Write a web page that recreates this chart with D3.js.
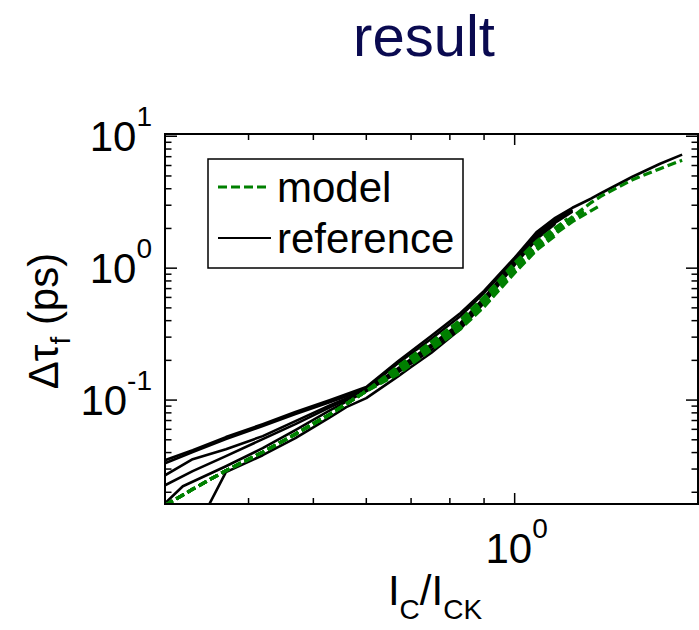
<!DOCTYPE html>
<html>
<head>
<meta charset="utf-8">
<script src="https://cdn.jsdelivr.net/npm/d3@7"></script>
<style>
  html, body { margin: 0; padding: 0; background: #fff; }
  svg { display: block; font-family: "Liberation Sans", Arial, sans-serif; }
</style>
</head>
<body>
<svg id="chart" width="699" height="630"></svg>
<script>
// ---------- data ----------
const title = "result";
const xDomain = [0.3, 1.88];
const yDomain = [0.0163, 10.4];
const yMajorTicks = [0.1, 1, 10];
const yTickExponents = ["-1", "0", "1"];
const xMajorTicks = [1];
const xTickExponents = ["0"];
const legendLabels = ["model", "reference"];

// reference curves (black)
const refA_x = [0.3, 0.33, 0.37, 0.42, 0.47, 0.53, 0.6, 0.67, 0.75, 0.83, 0.9, 1.0, 1.08, 1.15, 1.22, 1.3, 1.35, 1.5, 1.65, 1.78];
const refA_y = [0.0350, 0.0417, 0.0524, 0.0657, 0.0811, 0.100, 0.1256, 0.1977, 0.306, 0.4576, 0.6724, 1.20, 1.89, 2.41, 2.87, 3.36, 3.73, 4.93, 6.19, 7.25];
const refB_x = [0.3, 0.33, 0.37, 0.42, 0.47, 0.53, 0.6, 0.67, 0.75, 0.83, 0.9, 1.0, 1.08, 1.15, 1.22];
const refB_y = [0.0332, 0.0403, 0.0506, 0.0635, 0.0783, 0.0966, 0.1212, 0.191, 0.2905, 0.434, 0.649, 1.16, 1.82, 2.33, 2.77];
const refC_x = [0.3, 0.33, 0.37, 0.42, 0.47, 0.53, 0.6, 0.67, 0.75, 0.83, 0.9, 1.0, 1.08, 1.15, 1.22];
const refC_y = [0.0269, 0.0356, 0.0424, 0.0533, 0.0693, 0.0916, 0.1191, 0.175, 0.262, 0.384, 0.595, 1.12, 1.76, 2.29, 2.72];
const refD_x = [0.3, 0.33, 0.37, 0.42, 0.47, 0.53, 0.6, 0.67, 0.75, 0.83, 0.9, 1.0, 1.08, 1.15];
const refD_y = [0.0226, 0.0289, 0.0376, 0.0506, 0.0657, 0.0885, 0.1170, 0.169, 0.253, 0.371, 0.574, 1.10, 1.73, 2.25];
const refE_x = [0.3, 0.319, 0.37, 0.42, 0.47, 0.53, 0.6, 0.67, 0.75, 0.83, 0.9, 1.0, 1.08, 1.15, 1.22];
const refE_y = [0.0165, 0.0222, 0.0315, 0.0432, 0.0592, 0.0839, 0.1170, 0.163, 0.240, 0.358, 0.555, 1.08, 1.70, 2.21, 2.68];
const refF_x = [0.3385, 0.37, 0.42, 0.47, 0.53, 0.56, 0.6, 0.67, 0.7, 0.75, 0.83, 0.9, 1.0, 1.08, 1.15];
const refF_y = [0.0119, 0.0284, 0.0382, 0.0514, 0.0743, 0.0885, 0.1035, 0.152, 0.178, 0.2275, 0.346, 0.545, 1.06, 1.67, 2.17];

// model curves (green dashed)
const modG1_x = [0.3, 0.33, 0.37, 0.42, 0.47, 0.53, 0.6, 0.67, 0.75, 0.83, 0.9, 1.0, 1.08, 1.15, 1.22, 1.3, 1.35, 1.5, 1.65, 1.78];
const modG1_y = [0.0159, 0.0211, 0.0292, 0.0403, 0.0552, 0.0783, 0.117, 0.175, 0.266, 0.391, 0.574, 1.04, 1.53, 1.95, 2.45, 3.13, 3.54, 4.68, 5.68, 6.58];
const modG2_x = [0.3, 0.33, 0.37, 0.42, 0.47, 0.53, 0.6, 0.67, 0.75, 0.83, 0.9, 1.0, 1.08, 1.15, 1.22, 1.3, 1.34];
const modG2_y = [0.0159, 0.0211, 0.0292, 0.0403, 0.0552, 0.0783, 0.117, 0.169, 0.253, 0.365, 0.536, 0.971, 1.43, 1.82, 2.25, 2.72, 2.97];
const modG3_x = [0.3, 0.33, 0.37, 0.42, 0.47, 0.53, 0.6, 0.67, 0.75, 0.83, 0.9, 1.0, 1.08, 1.15, 1.22];
const modG3_y = [0.0159, 0.0211, 0.0292, 0.0403, 0.0552, 0.0783, 0.117, 0.163, 0.244, 0.352, 0.517, 0.937, 1.40, 1.85, 2.33];
const modG4_x = [0.3, 0.33, 0.37, 0.42, 0.47, 0.53, 0.6, 0.67, 0.75, 0.83, 0.9, 1.0, 1.08, 1.15, 1.2];
const modG4_y = [0.0159, 0.0211, 0.0292, 0.0403, 0.0552, 0.0783, 0.117, 0.181, 0.276, 0.405, 0.605, 1.10, 1.61, 2.02, 2.37];
const modG5_x = [0.3, 0.33, 0.37, 0.42, 0.47, 0.53, 0.6, 0.67, 0.75, 0.83, 0.9, 1.0, 1.08, 1.15];
const modG5_y = [0.0159, 0.0211, 0.0292, 0.0403, 0.0552, 0.0783, 0.117, 0.1575, 0.240, 0.346, 0.508, 0.921, 1.38, 1.76];
const modG6_x = [0.3, 0.33, 0.37, 0.42, 0.47, 0.53, 0.6, 0.67, 0.75, 0.83, 0.9, 1.0, 1.08, 1.15, 1.22, 1.27];
const modG6_y = [0.0159, 0.0211, 0.0292, 0.0403, 0.0552, 0.0783, 0.117, 0.175, 0.266, 0.391, 0.565, 1.005, 1.48, 1.89, 2.37, 2.68];

const refSeries = [[refA_x, refA_y], [refB_x, refB_y], [refC_x, refC_y], [refD_x, refD_y], [refE_x, refE_y], [refF_x, refF_y]];
const modSeries = [[modG1_x, modG1_y], [modG2_x, modG2_y], [modG3_x, modG3_y], [modG4_x, modG4_y], [modG5_x, modG5_y], [modG6_x, modG6_y]];

// ---------- layout ----------
const L = 165, R = 698, T = 134, B = 504;
const GREEN = "#008000";
const svg = d3.select("#chart");

const x = d3.scaleLog().domain(xDomain).range([L, R]);
const y = d3.scaleLog().domain(yDomain).range([B, T]);

svg.append("defs").append("clipPath").attr("id", "plotclip")
  .append("rect").attr("x", L).attr("y", T).attr("width", R - L).attr("height", B - T);

// title
svg.append("text").attr("x", 424).attr("y", 56).attr("text-anchor", "middle")
  .attr("font-size", 58).attr("fill", "#0a0a50").text(title);

// curves
const line = d3.line().x(d => x(d[0])).y(d => y(d[1]));
const plot = svg.append("g").attr("clip-path", "url(#plotclip)");

refSeries.forEach(([xs, ys]) => {
  plot.append("path").datum(xs.map((v, i) => [v, ys[i]]))
    .attr("d", line).attr("fill", "none").attr("stroke", "#000")
    .attr("stroke-width", 2.6).attr("stroke-linejoin", "round");
});
modSeries.forEach(([xs, ys]) => {
  plot.append("path").datum(xs.map((v, i) => [v, ys[i]]))
    .attr("d", line).attr("fill", "none").attr("stroke", GREEN)
    .attr("stroke-width", 3.2).attr("stroke-dasharray", "9,4");
});

// axes frame
const ax = svg.append("g");
ax.append("rect").attr("x", L).attr("y", T).attr("width", R - L).attr("height", B - T)
  .attr("fill", "none").attr("stroke", "#000").attr("stroke-width", 2);

// y ticks (log, inward, both sides)
const yTicks = y.ticks();
yTicks.forEach(t => {
  const isMajor = yMajorTicks.some(m => Math.abs(m - t) < 1e-9);
  const len = isMajor ? 12 : 6.5;
  const yy = y(t);
  if (yy < T - 0.5 || yy > B + 0.5) return;
  ax.append("line").attr("x1", L).attr("x2", L + len).attr("y1", yy).attr("y2", yy)
    .attr("stroke", "#000").attr("stroke-width", 1.5);
  ax.append("line").attr("x1", R).attr("x2", R - len).attr("y1", yy).attr("y2", yy)
    .attr("stroke", "#000").attr("stroke-width", 1.5);
});
// x ticks
const xTicks = x.ticks();
xTicks.forEach(t => {
  const isMajor = xMajorTicks.some(m => Math.abs(m - t) < 1e-9);
  const len = isMajor ? 11 : 6;
  const xx = x(t);
  if (xx < L + 1 || xx > R - 1) return;
  ax.append("line").attr("x1", xx).attr("x2", xx).attr("y1", B).attr("y2", B - len)
    .attr("stroke", "#000").attr("stroke-width", 1.5);
  ax.append("line").attr("x1", xx).attr("x2", xx).attr("y1", T).attr("y2", T + len)
    .attr("stroke", "#000").attr("stroke-width", 1.5);
});

// y tick labels
yMajorTicks.forEach((t, i) => {
  const tx = svg.append("text").attr("x", 152).attr("y", y(t) + 14.5)
    .attr("text-anchor", "end").attr("font-size", 42).attr("fill", "#000");
  tx.append("tspan").text("10");
  tx.append("tspan").attr("dy", -25).attr("font-size", 28).text(yTickExponents[i]);
});
// x tick labels
xMajorTicks.forEach((t, i) => {
  const tx = svg.append("text").attr("x", x(t) + 2).attr("y", 563)
    .attr("text-anchor", "middle").attr("font-size", 42).attr("fill", "#000");
  tx.append("tspan").text("10");
  tx.append("tspan").attr("dy", -25).attr("font-size", 28).text(xTickExponents[i]);
});

// x axis label
const xl = svg.append("text").attr("x", 435).attr("y", 605).attr("text-anchor", "middle")
  .attr("font-size", 42).attr("fill", "#000");
xl.append("tspan").text("I");
xl.append("tspan").attr("dy", 14).attr("font-size", 28).text("C");
xl.append("tspan").attr("dy", -14).text("/I");
xl.append("tspan").attr("dy", 14).attr("font-size", 28).text("CK");

// y axis label
const yl = svg.append("text").attr("transform", "translate(58,321) rotate(-90)")
  .attr("text-anchor", "middle").attr("font-size", 42).attr("fill", "#000");
yl.append("tspan").text("\u0394\u03C4");
yl.append("tspan").attr("dy", 12).attr("font-size", 28).text("f");
yl.append("tspan").attr("dy", -12).text(" (ps)");

// legend
const lg = svg.append("g");
lg.append("rect").attr("x", 208).attr("y", 159).attr("width", 255).attr("height", 109)
  .attr("fill", "#fff").attr("stroke", "#000").attr("stroke-width", 1.5);
lg.append("line").attr("x1", 218).attr("x2", 270).attr("y1", 187).attr("y2", 187)
  .attr("stroke", GREEN).attr("stroke-width", 3).attr("stroke-dasharray", "9,4");
lg.append("line").attr("x1", 218).attr("x2", 271).attr("y1", 238).attr("y2", 238)
  .attr("stroke", "#000").attr("stroke-width", 2.2);
lg.append("text").attr("x", 277).attr("y", 202).attr("font-size", 42).text(legendLabels[0]);
lg.append("text").attr("x", 277).attr("y", 253).attr("font-size", 42).text(legendLabels[1]);
</script>
</body>
</html>
